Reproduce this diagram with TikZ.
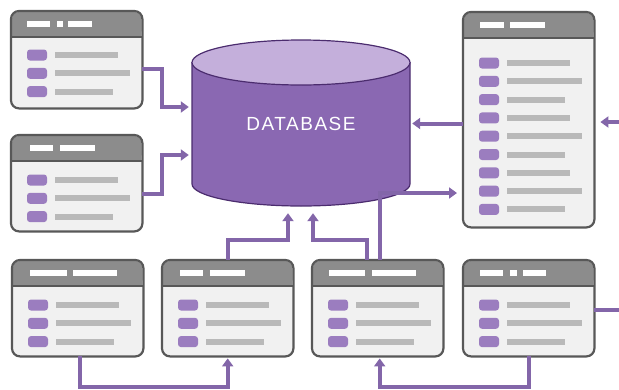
\documentclass[tikz,border=0pt]{standalone}
\usepackage{fontspec}
\usetikzlibrary{calc, positioning}
\usetikzlibrary{arrows.meta}
\newfontfamily\dbfont{Liberation Sans}[LetterSpace=8]

\definecolor{linkpurple}{HTML}{8366A9}
\definecolor{dbbody}{HTML}{8A68B2}
\definecolor{dbtop}{HTML}{C4AFDB}
\definecolor{dbedge}{HTML}{4B2C6E}
\definecolor{winline}{HTML}{585858}
\definecolor{headgray}{HTML}{8C8C8C}
\definecolor{winbody}{HTML}{F1F1F1}
\definecolor{itempurple}{HTML}{9B7DBF}
\definecolor{bargray}{HTML}{B9B9B9}

\tikzset{
  winbox/.style={rectangle, rounded corners=8pt, fill=winbody, minimum width=131pt, inner sep=0pt},
  link/.style={draw=linkpurple, line width=4pt, -{Triangle[width=11pt,length=8pt]}},
  linkplain/.style={draw=linkpurple, line width=4pt}
}

\begin{document}
\begin{tikzpicture}[x=1pt, y=-1pt]
\useasboundingbox (0,0) rectangle (619,389);

% name, left, top, height, first row, rows, header bits
\newcommand{\drawwindow}[7]{
  \node[winbox, minimum height=#4pt, anchor=north west] (#1) at (#2,#3) {};
  \fill[headgray, rounded corners=7pt] ([shift={(1,1)}]#1.north west) rectangle ([shift={(-1,26)}]#1.north east);
  \fill[headgray] ([shift={(1,14)}]#1.north west) rectangle ([shift={(-1,26)}]#1.north east);
  \draw[winline, line width=2pt] ([shift={(0,26)}]#1.north west) -- ([shift={(0,26)}]#1.north east);
  \foreach \a/\b in {#7}
  {
      \fill[white] ([shift={(\a,10)}]#1.north west) rectangle ++(\b,6);
  }
  \foreach \i in {1,...,#6}
  {
      \pgfmathsetmacro{\rowy}{#5+18.3*(\i-1)}
      \pgfmathsetmacro{\barlen}{{63,75,58}[mod(\i-1,3)]}
      \fill[itempurple, rounded corners=3pt] ([shift={(16,\rowy-5.5)}]#1.north west) rectangle ++(20,11);
      \fill[bargray] ([shift={(44,\rowy-3)}]#1.north west) rectangle ++(\barlen,6);
  }
  \draw[winline, line width=2.2pt, rounded corners=8pt] (#1.north west) rectangle (#1.south east);
}

% database cylinder
\fill[dbbody] (192,62) -- (192,184) arc[start angle=180, end angle=360, x radius=109pt, y radius=22pt] -- (410,62) -- cycle;
\draw[dbedge, line width=1.2pt] (192,62) -- (192,184) arc[start angle=180, end angle=360, x radius=109pt, y radius=22pt] -- (410,62);
\filldraw[fill=dbtop, draw=dbedge, line width=1.2pt] (301,62.5) ellipse [x radius=109pt, y radius=22.5pt];
\node[minimum width=218pt, minimum height=167pt, inner sep=0pt, text=white, font=\dbfont\fontsize{19}{19}\selectfont] (db) at (301,123.5) {DATABASE};

% windows
\drawwindow{w1}{11}{11}{97}{44}{3}{16/23,46/6,57/24}
\drawwindow{w2}{11}{135}{96}{45}{3}{19/23,49/35}
\drawwindow{wt}{463}{12}{215}{51}{9}{17/24,47/35}
\drawwindow{w5}{12}{260}{96}{45}{3}{18/37,61/44}
\drawwindow{w6}{162}{260}{96}{45}{3}{18/23,48/35}
\drawwindow{w3}{312}{260}{96}{45}{3}{17/36,60/44}
\drawwindow{w4}{463}{260}{96}{45}{3}{17/23,47/7,60/23}

% connectors
\coordinate (edgeR) at (619,122);
\coordinate (edgeR2) at (619,310);
\draw[link, shorten >=3pt] ([shift={(0,9)}]w1.east) -- ++(20,0) |- (db.west |- 0,107);
\draw[link, shorten >=3pt] ([shift={(0,11)}]w2.east) -- ++(20,0) |- (db.west |- 0,155);
\draw[link, shorten >=2pt] (wt.west |- db.east) -- (db.east);
\draw[link, shorten >=6pt] (edgeR) -- (wt.east |- edgeR);
\draw[link, shorten >=6pt] ([xshift=2pt]w3.north) |- (wt.west |- 0,193);
\draw[link, shorten >=6pt] ([xshift=-11pt]w3.north) -- ++(0,-20) -| ([xshift=12pt]db.south);
\draw[link, shorten >=6pt] (w6.north) -- ++(0,-20) -| ([xshift=-13pt]db.south);
\draw[link, shorten >=2pt] ([xshift=2.5pt]w5.south) -- ++(0,31) -| (w6.south);
\draw[link, shorten >=2pt] (w4.south) -- ++(0,31) -| ([xshift=2pt]w3.south);
\draw[linkplain] (w4.east |- edgeR2) -- (edgeR2);
\end{tikzpicture}
\end{document}
